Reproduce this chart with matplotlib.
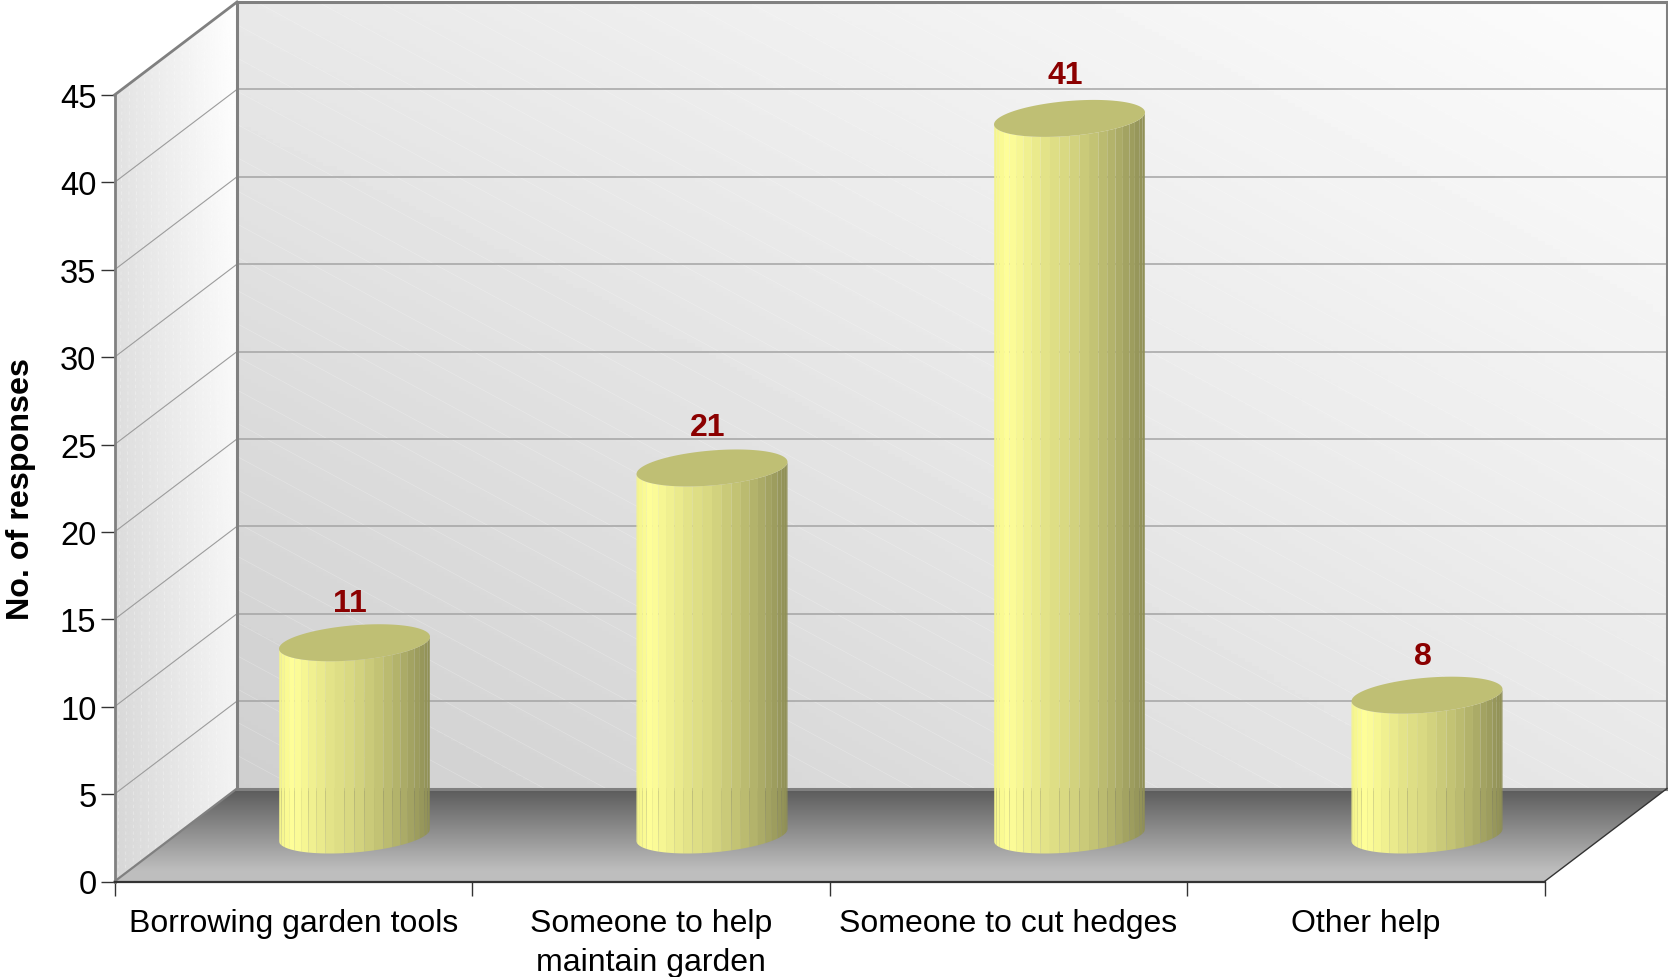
import matplotlib
matplotlib.use("Agg")
import matplotlib.pyplot as plt
from matplotlib.patches import Polygon
import numpy as np

plt.rcParams['font.family'] = ['Liberation Sans', 'DejaVu Sans']

categories = ["Borrowing garden tools", "Someone to help\nmaintain garden",
              "Someone to cut hedges", "Other help"]
responses = [11, 21, 41, 8]
y_ticks = [0, 5, 10, 15, 20, 25, 30, 35, 40, 45]

W, H = 1668, 978
LEFT, RIGHT, BOTTOM, TOP = 114.5, 1544.5, 882.5, 96.0

fig = plt.figure(figsize=(W / 100, H / 100), dpi=100)
ax = fig.add_axes([LEFT / W, 1 - BOTTOM / H, (RIGHT - LEFT) / W, (BOTTOM - TOP) / H])
ax.set_facecolor('none')

n_cat = len(categories)
y_max = y_ticks[-1]
px_x = (RIGHT - LEFT) / n_cat    # pixels per category
px_y = (BOTTOM - TOP) / y_max    # pixels per response
DX = 122.5 / px_x                # full chart depth in data units
DY = 93.0 / px_y


def gradient(colors, extent, clip, zorder=1):
    # colors is a 2x2 grey table (top row first), smoothed out over the extent
    u = np.linspace(0, 1, 200)
    v = np.linspace(0, 1, 200)
    uu, vv = np.meshgrid(u, v)
    (a, b), (c, d) = colors
    img = (a * (1 - uu) + b * uu) * (1 - vv) + (c * (1 - uu) + d * uu) * vv
    im = ax.imshow(img, cmap='gray', vmin=0, vmax=255, extent=extent,
                   aspect='auto', origin='upper', zorder=zorder)
    im.set_clip_box(fig.bbox)
    im.set_clip_path(clip)
    return im


def add_region(pts):
    p = Polygon(pts, closed=True, facecolor='none', edgecolor='none',
                transform=ax.transData, clip_on=False)
    ax.add_patch(p)
    return p


# back wall
back = add_region([(DX, DY), (n_cat + DX, DY), (n_cat + DX, y_max + DY), (DX, y_max + DY)])
gradient([[232, 252], [207, 232]], (DX, n_cat + DX, DY, y_max + DY), back)

# faint banding on the back wall
slope = 0.54 * px_x / px_y
xs = np.array([DX, n_cat + DX])
for start in np.arange(DY, y_max + DY + n_cat * slope, 1.9):
    line, = ax.plot(xs, start - (xs - DX) * slope, color='white', lw=0.5, alpha=0.25, zorder=2)
    line.set_clip_box(fig.bbox)
    line.set_clip_path(back)

# side wall
side = add_region([(0, 0), (DX, DY), (DX, y_max + DY), (0, y_max)])
gradient([[228, 255], [214, 242]], (0, DX, 0, y_max + DY), side)

# speckle on the side wall
for x0 in np.arange(0.01, DX * 0.85, 0.021):
    line, = ax.plot([x0, x0 + 0.012], [0, y_max + DY], color='white', lw=0.6, alpha=0.35,
                    ls=(0, (4, 4)), zorder=2)
    line.set_clip_box(fig.bbox)
    line.set_clip_path(side)

# floor
floor = add_region([(0, 0), (n_cat, 0), (n_cat + DX, DY), (DX, DY)])
gradient([[90, 90], [190, 190]], (0, n_cat + DX, 0.6, DY), floor)
low = add_region([(0, 0), (n_cat, 0), (n_cat + 0.6 / DY * DX, 0.6), (0.6 / DY * DX, 0.6)])
low.set_facecolor((190 / 255,) * 3)
low.set_zorder(1)

# grid lines
for t in y_ticks[1:-1]:
    ax.plot([0, DX], [t, t + DY], color='#9c9c9c', lw=0.8, zorder=3, clip_on=False)
    ax.plot([DX, n_cat + DX], [t + DY, t + DY], color='#a4a4a4', lw=1.1, zorder=3, clip_on=False)

# wall outlines
edge = '#808080'
ax.plot([DX, DX], [DY, y_max + DY], color=edge, lw=2.2, zorder=3, clip_on=False)
ax.plot([DX, n_cat + DX], [y_max + DY, y_max + DY], color=edge, lw=2.2, zorder=3, clip_on=False)
ax.plot([n_cat + DX, n_cat + DX], [DY, y_max + DY], color=edge, lw=2.2, zorder=3, clip_on=False)
ax.plot([DX, n_cat + DX], [DY, DY], color=edge, lw=2.2, zorder=3, clip_on=False)
ax.plot([0, DX], [y_max, y_max + DY], color=edge, lw=2.0, zorder=3, clip_on=False)
ax.plot([0, DX], [0, DY], color=edge, lw=1.6, zorder=3, clip_on=False)
ax.plot([n_cat, n_cat + DX], [0, DY], color='#333333', lw=1.0, zorder=3, clip_on=False)

# cylinders
R_X = 75.5 / px_x
R_Y = 18.5 / px_y
TILT = np.radians(19)
stops_pos = [0.0, 0.09, 0.33, 0.5, 0.75, 0.92, 1.0]
stops_rgb = np.array([[243, 243, 140], [255, 255, 153], [228, 228, 136], [214, 214, 128],
                      [184, 184, 110], [156, 156, 94], [142, 142, 85]]) / 255
n_facets = 24
angles = np.linspace(np.pi, 2 * np.pi, n_facets + 1)

for i, val in enumerate(responses):
    cx = i + 0.5 + DX / 2
    base = DY / 2
    top = base + val
    for t1, t2 in zip(angles[:-1], angles[1:]):
        tt = np.linspace(t1, t2, 4)
        xs = cx + R_X * np.cos(tt)
        low_y = base + R_Y * np.sin(tt + TILT)
        high_y = top + R_Y * np.sin(tt + TILT)
        pos = (np.cos((t1 + t2) / 2) + 1) / 2
        col = [np.interp(pos, stops_pos, stops_rgb[:, k]) for k in range(3)]
        pts = np.r_[np.c_[xs, low_y], np.c_[xs[::-1], high_y[::-1]]]
        ax.add_patch(Polygon(pts, closed=True, facecolor=col, edgecolor='none', lw=0,
                             zorder=5, clip_on=False))
    tt = np.linspace(0, 2 * np.pi, 120)
    ax.fill(cx + R_X * np.cos(tt), top + R_Y * np.sin(tt + TILT), color='#bfbf74',
            lw=0, zorder=6, clip_on=False)
    # labels sit a little further off the taller cylinders
    ax.annotate(str(val), (cx, top), xytext=(-3, 27.5 + 0.09 * val), textcoords='offset points',
                ha='center', va='center', color='#8b0000', fontsize=23,
                fontweight='bold', zorder=7, annotation_clip=False)

# axes
ax.set_xlim(0, n_cat)
ax.set_ylim(0, y_max)
ax.set_yticks(y_ticks)
ax.set_xticks(np.arange(n_cat + 1))
ax.set_xticklabels([])
ax.set_xticks(np.arange(n_cat) + 0.5, categories, minor=True)
ax.tick_params(axis='y', length=10, width=1.0, color='#333333', labelsize=23.5, pad=3)
ax.tick_params(axis='x', which='major', length=10, width=1.0, color='#333333')
ax.tick_params(axis='x', which='minor', length=0, labelsize=23, pad=19)
for lab in ax.get_xticklabels(minor=True):
    lab.set_linespacing(1.4)
for s in ['top', 'right']:
    ax.spines[s].set_visible(False)
ax.spines['left'].set_color(edge)
ax.spines['left'].set_linewidth(2.0)
ax.spines['left'].set_zorder(4)
ax.spines['bottom'].set_color('#333333')
ax.spines['bottom'].set_linewidth(1.6)
ax.spines['bottom'].set_zorder(4)

fig.text(21.5 / W, 1 - 489 / H, "No. of responses", rotation=90, ha='center', va='center',
         fontsize=23.2, fontweight='bold', color='black')

fig.savefig("out.png", dpi=100, facecolor='white')
